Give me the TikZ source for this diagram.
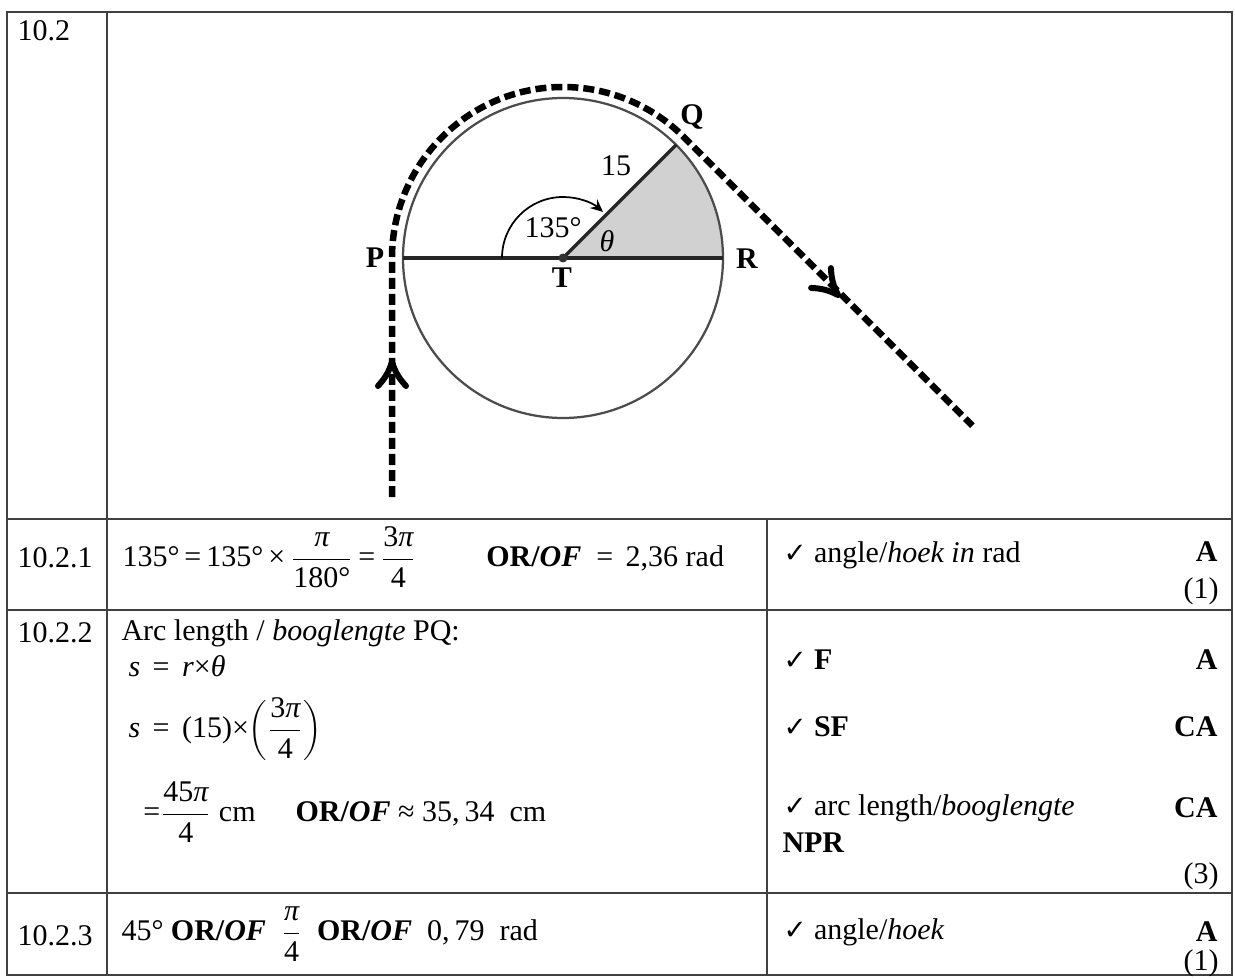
\documentclass[tikz,border=0pt]{standalone}
\usepackage{fontspec}
\setmainfont{Liberation Serif}
\newfontfamily\dejavu{DejaVu Sans}
\usetikzlibrary{arrows.meta}
\newcommand{\fr}[2]{\ensuremath{\displaystyle\frac{\hbox{#1}}{\hbox{#2}}}}
\newcommand{\ck}{{\dejavu\fontsize{11}{12}\selectfont ✓}}
\newcommand{\orof}{\textbf{OR/\textit{OF}}}
\newcommand{\ip}{{\itshape π}}
\begin{document}
\begin{tikzpicture}[x=0.4pt,y=-0.4pt,
  font=\fontsize{12}{14}\selectfont,
  tbl/.style={line width=0.8pt, draw=black!75},
  txt/.style={inner sep=0pt, anchor=west},
  markbox/.style={inner sep=0pt, anchor=east, font=\fontsize{12}{14}\selectfont\bfseries},
  lab/.style={inner sep=0pt},
  dpath/.style={line width=2.6pt, dash pattern=on 4.4pt off 2pt},
  chev/.style={line width=2.4pt, line cap=round, line join=round}]
\useasboundingbox (0,0) rectangle (1235,979);
% table
\draw[tbl] (7,12) rectangle (1232,975);
\draw[tbl] (107,12) -- (107,975);
\draw[tbl] (7,519) -- (1232,519);
\draw[tbl] (7,610) -- (1232,610);
\draw[tbl] (7,893) -- (1232,893);
\draw[tbl] (767,519) -- (767,975);
% diagram
\coordinate (T) at (563,258);
\fill[black!18] (T) -- ++(0:160) arc[start angle=0, end angle=-45, radius=160] -- cycle;
\draw[line width=0.9pt, draw=black!70] (T) circle[radius=160];
\draw[line width=1.3pt, draw=black!85] (T) ++(180:160) coordinate (P) -- ++(320,0) coordinate (R);
\draw[line width=1.3pt, draw=black!85] (T) -- ++(-45:160) coordinate (Q);
\fill[black!80] (T) circle[radius=4.5];
\draw[line width=0.7pt, -{Stealth[length=5pt,width=4.5pt]}] (T) ++(180:61) arc[start angle=180, end angle=311, radius=61];
% dashed path
\coordinate (S) at (392,497);
\draw[dpath] (S) -- (392,258) arc[start angle=180, end angle=315, radius=171] -- ++(45:408) coordinate (E);
\begin{scope}[shift={(392,362)}, rotate=90]
  \draw[chev] (-24,-14) to[bend right=12] (0,0) to[bend right=12] (-24,14);
\end{scope}
\begin{scope}[shift={(838,295)}, rotate=-45]
  \draw[chev] (-24,-14) to[bend right=12] (0,0) to[bend right=12] (-24,14);
\end{scope}
% labels
\node[lab] (lP) at (375,258) {\bfseries P};
\node[lab] (lR) at (747,259) {\bfseries R};
\node[lab] (lT) at (562,278) {\bfseries T};
\node[lab] (lQ) at (692,117) {\bfseries Q};
\node[lab] (l15) at (616,166) {15};
\node[lab] (l135) at (553,228) {135°};
\node[lab] (lth) at (607,241) {\itshape θ};
% column 1
\node[txt] (h0) at (17,31) {10.2};
\node[txt] (h1) at (17,558) {10.2.1};
\node[txt] (h2) at (17,633) {10.2.2};
\node[txt] (h3) at (17,936) {10.2.3};
% column 2
\node[txt] (m1) at (122,557) {135°\,=\,135°\,×\,\fr{\ip}{180°}\,=\,\fr{3\ip}{4}\hspace{28pt}\orof\ \ = \,2,36 rad};
\node[txt] (m2a) at (121,633) {Arc length / \textit{booglengte} PQ:};
\node[txt] (m2b) at (128,666) {\textit{s} \,=\, \textit{r}×\textit{θ}};
\node[txt] (m2c) at (128,729) {\textit{s} \,=\, (15)×$\left(\fr{3\ip}{4}\right)$};
\node[txt] (m2d) at (143,812) {=\fr{45\ip}{4} cm\hspace{16pt}\orof\ ≈ 35,\,34 \ cm};
\node[txt] (m3) at (121,934) {45° \orof\ \ \fr{\ip}{4}\ \ \orof\ \ 0,\,79\ \ rad};
% column 3
\node[txt] (c1) at (783,555) {\ck\ angle/\textit{hoek in} rad};
\node[txt] (c2) at (783,660) {\ck\ \textbf{F}};
\node[txt] (c3) at (783,727) {\ck\ \textbf{SF}};
\node[txt] (c4) at (783,808) {\ck\ arc length/\textit{booglengte}};
\node[txt] (c5) at (782,843) {\textbf{NPR}};
\node[txt] (c6) at (783,932) {\ck\ angle/\textit{hoek}};
\node[markbox] (a1) at (1218,552) {A};
\node[lab, anchor=east] (n1) at (1219,591) {(1)};
\node[markbox] (a2) at (1218,660) {A};
\node[markbox] (a3) at (1218,727) {CA};
\node[markbox] (a4) at (1218,808) {CA};
\node[lab, anchor=east] (n2) at (1219,876) {(3)};
\node[markbox] (a5) at (1218,932) {A};
\node[lab, anchor=east] (n3) at (1219,963) {(1)};
\end{tikzpicture}
\end{document}
